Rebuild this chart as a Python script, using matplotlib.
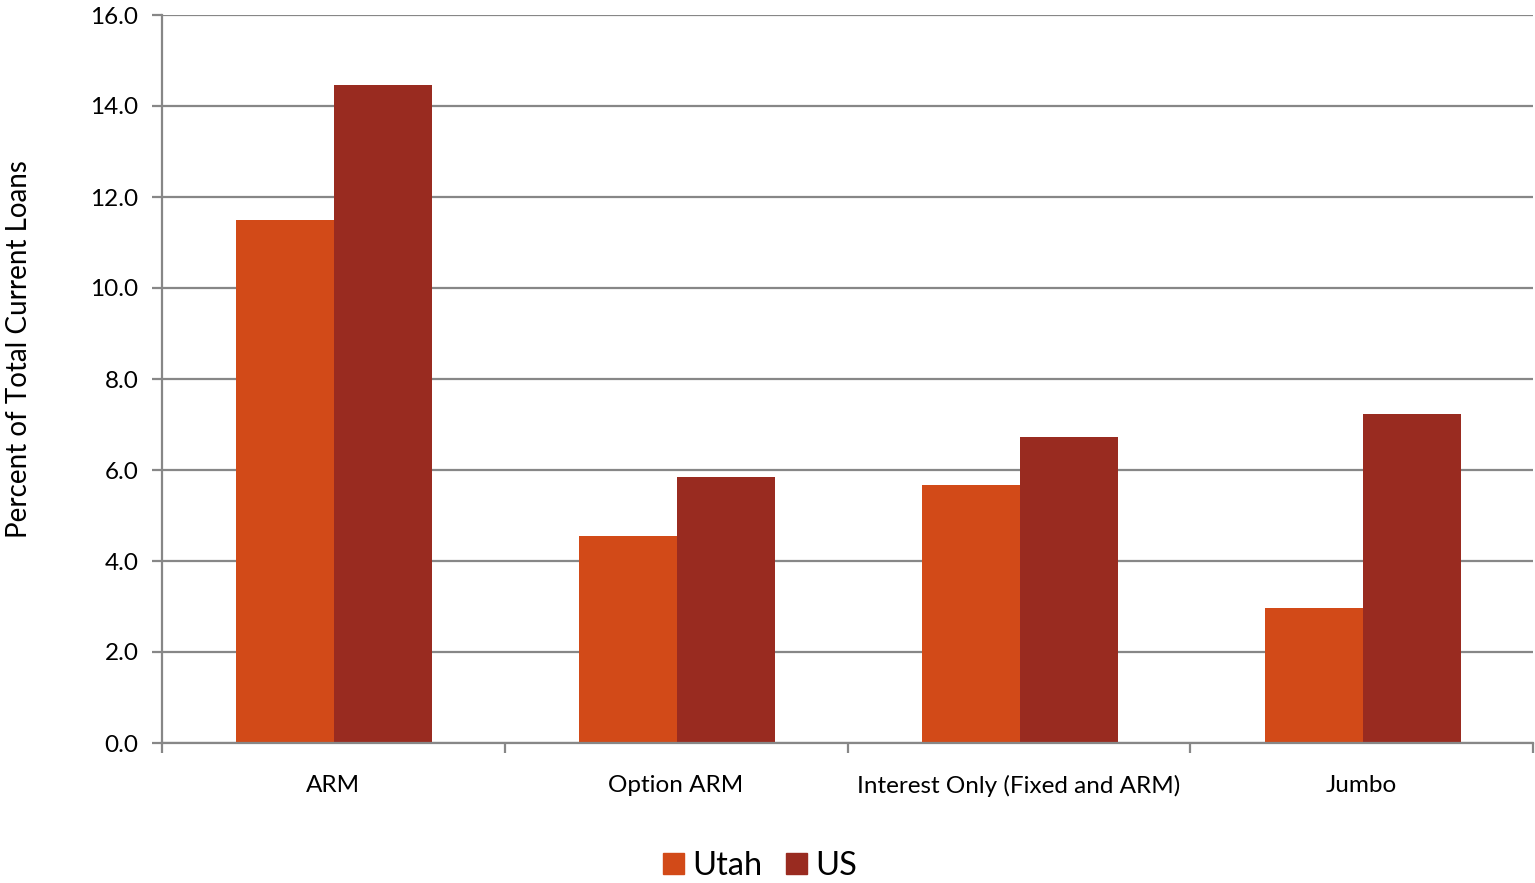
import matplotlib
matplotlib.use("Agg")
import matplotlib.pyplot as plt
import numpy as np
from matplotlib.patches import Patch

categories = ["ARM", "Option ARM", "Interest Only (Fixed and ARM)", "Jumbo"]
utah = [11.5, 4.55, 5.67, 2.97]
us = [14.47, 5.84, 6.73, 7.22]
y_ticks = [0, 2, 4, 6, 8, 10, 12, 14, 16]

UTAH_COLOR = "#D24A18"
US_COLOR = "#992B20"
GRID = "#878787"

plt.rcParams["font.family"] = ["Lato", "DejaVu Sans"]

fig = plt.figure(figsize=(15.35, 8.83), dpi=100)
ax = fig.add_axes([162 / 1535, 1 - 743 / 883, (1533 - 162) / 1535, (743 - 15) / 883])

x = np.arange(len(categories))
w = 0.286
ax.bar(x - w / 2 + 0.003, utah, w, color=UTAH_COLOR, label="Utah", zorder=3)
ax.bar(x + w / 2 + 0.003, us, w, color=US_COLOR, label="US", zorder=3)

ax.set_xlim(-0.5, len(categories) - 0.5)
ax.set_ylim(0, 16)
ax.set_yticks(y_ticks)
ax.set_yticklabels([f"{v:.1f}" for v in y_ticks], fontsize=17.5)
ax.yaxis.grid(True, color=GRID, lw=1.6, zorder=0)
ax.set_axisbelow(True)

ax.set_xticks(x)
ax.set_xticklabels(categories, fontsize=17.5)
ax.tick_params(axis="x", length=0, pad=23)
ax.set_xticks(np.arange(-0.5, len(categories)), minor=True)
ax.tick_params(axis="x", which="minor", length=7, width=1.6, color=GRID)
ax.tick_params(axis="y", length=7, width=1.6, color=GRID, pad=10)

for s in ["top", "right"]:
    ax.spines[s].set_visible(False)
for s in ["left", "bottom"]:
    ax.spines[s].set_color(GRID)
    ax.spines[s].set_linewidth(1.6)
ax.spines["bottom"].set_zorder(4)

ax.set_ylabel("Percent of Total Current Loans", fontsize=20)
ax.yaxis.set_label_coords(-130 / 1371, 0.541)

handles = [Patch(color=UTAH_COLOR), Patch(color=US_COLOR)]
fig.legend(handles, ["Utah", "US"], loc="center", bbox_to_anchor=(760 / 1535, 1 - 866 / 883),
           ncol=2, frameon=False, fontsize=23.5, handlelength=0.65, handleheight=0.65,
           handletextpad=0.25, columnspacing=0.7)

fig.savefig("out.png", dpi=100)
